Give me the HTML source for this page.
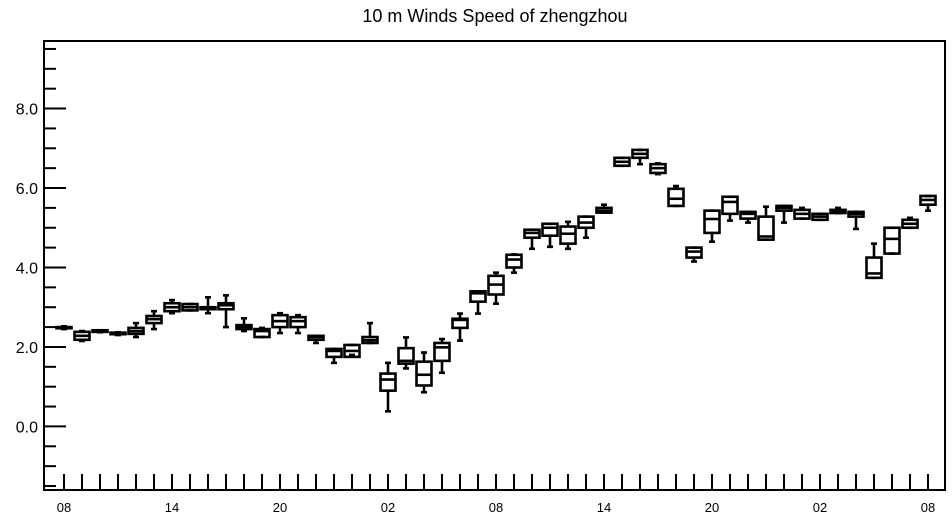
<!DOCTYPE html>
<html><head><meta charset="utf-8"><style>
body{margin:0;background:#fff;}
svg{display:block;font-family:"Liberation Sans",Arial,sans-serif;}
</style></head><body>
<svg id="chart" width="952" height="520" viewBox="0 0 952 520">
<text x="495" y="22" font-size="18" text-anchor="middle">10 m Winds Speed of zhengzhou</text>
<g id="axes"></g><g id="boxes"></g>
</svg>
<script>
const hourLabels=["08","14","20","02","08","14","20","02","08"];
const yTickLabels=["0.0","2.0","4.0","6.0","8.0"];
const yTickValues=[0,2,4,6,8];
const mins=[2.45,2.15,2.37,2.3,2.25,2.45,2.85,2.92,2.85,2.5,2.4,2.25,2.35,2.35,2.1,1.6,1.8,2.1,0.38,1.46,0.86,1.35,2.16,2.84,3.09,3.87,4.47,4.52,4.47,4.75,5.38,6.56,6.6,6.35,5.55,4.15,4.65,5.18,5.13,4.7,5.13,5.23,5.2,5.37,4.97,3.74,4.35,5.0,5.43];
const q1s=[2.47,2.18,2.38,2.32,2.33,2.6,2.9,2.92,2.95,2.95,2.45,2.25,2.5,2.5,2.18,1.75,1.75,2.1,0.9,1.58,1.03,1.65,2.48,3.14,3.32,4.0,4.75,4.8,4.6,5.0,5.38,6.56,6.76,6.38,5.55,4.25,4.87,5.35,5.23,4.7,5.43,5.23,5.2,5.37,5.28,3.74,4.35,5.0,5.58];
const medians=[2.48,2.28,2.4,2.33,2.4,2.7,3.0,3.0,2.97,3.05,2.5,2.4,2.65,2.65,2.25,1.9,1.9,2.17,1.18,1.65,1.3,1.99,2.68,3.35,3.57,4.2,4.87,5.0,4.85,5.13,5.43,6.66,6.86,6.5,5.73,4.4,5.22,5.65,5.35,4.78,5.5,5.35,5.28,5.4,5.35,3.85,4.72,5.1,5.7];
const q3s=[2.5,2.38,2.42,2.36,2.48,2.78,3.1,3.08,3.0,3.1,2.55,2.45,2.8,2.75,2.28,1.95,2.05,2.25,1.33,1.97,1.63,2.1,2.71,3.4,3.79,4.32,4.95,5.1,5.03,5.28,5.5,6.76,6.96,6.6,5.98,4.5,5.43,5.78,5.4,5.28,5.55,5.45,5.35,5.45,5.4,4.25,5.0,5.2,5.8];
const maxs=[2.52,2.4,2.42,2.37,2.6,2.9,3.18,3.08,3.25,3.3,2.72,2.48,2.85,2.8,2.28,1.95,2.05,2.6,1.6,2.24,1.86,2.2,2.84,3.4,3.87,4.33,4.95,5.1,5.15,5.28,5.58,6.76,6.96,6.62,6.05,4.5,5.43,5.78,5.4,5.53,5.55,5.5,5.35,5.5,5.4,4.6,5.0,5.25,5.8];
const NS="http://www.w3.org/2000/svg";
const L=44,R=945,T=41,B=490,yMin=-1.6,yMax=9.7;
const X0=64,DX=18;
const yS=v=>B-(v-yMin)/(yMax-yMin)*(B-T);
const xS=i=>X0+i*DX;
function mk(tag,attrs,parent){const e=document.createElementNS(NS,tag);for(const k in attrs)e.setAttribute(k,attrs[k]);parent.appendChild(e);return e;}
const ax=document.getElementById('axes'),bx=document.getElementById('boxes');
const frame=mk('rect',{x:L,y:T,width:R-L,height:B-T,fill:'none',stroke:'#000','stroke-width':2},ax);


for(let v=-1.5;v<=9.5;v+=0.5){
  const major=Math.abs(v/2-Math.round(v/2))<1e-6;
  const len=major?22:12;const y=yS(v);
  const t=mk('line',{x1:L,x2:L+len,y1:y,y2:y,stroke:'#000','stroke-width':2},ax);
  
  
}
yTickValues.forEach((v,i)=>{
  const t=mk('text',{x:L-6,y:yS(v)+6,'font-size':16,'text-anchor':'end'},ax);
  t.textContent=yTickLabels[i];
  
  
});
for(let i=0;i<medians.length;i++){
  const x=xS(i);
  const t=mk('line',{x1:x,x2:x,y1:B,y2:B-16,stroke:'#000','stroke-width':2},ax);
  
  
}
hourLabels.forEach((s,i)=>{
  const t=mk('text',{x:xS(i*6),y:512,'font-size':13,'text-anchor':'middle'},ax);
  t.textContent=s;
  
  
});
for(let i=0;i<medians.length;i++){
  const x=xS(i),w=7.5,c=3;
  const g=mk('g',{stroke:'#000','stroke-width':2.6,fill:'none'},bx);
  
  
  mk('line',{x1:x,x2:x,y1:yS(maxs[i]),y2:yS(q3s[i])},g);
  mk('line',{x1:x,x2:x,y1:yS(q1s[i]),y2:yS(mins[i])},g);
  mk('line',{x1:x-c,x2:x+c,y1:yS(maxs[i]),y2:yS(maxs[i])},g);
  mk('line',{x1:x-c,x2:x+c,y1:yS(mins[i]),y2:yS(mins[i])},g);
  mk('rect',{x:x-w,y:yS(q3s[i]),width:2*w,height:Math.max(1,yS(q1s[i])-yS(q3s[i]))},g);
  mk('line',{x1:x-w,x2:x+w,y1:yS(medians[i]),y2:yS(medians[i])},g);
}
</script>
</body></html>
